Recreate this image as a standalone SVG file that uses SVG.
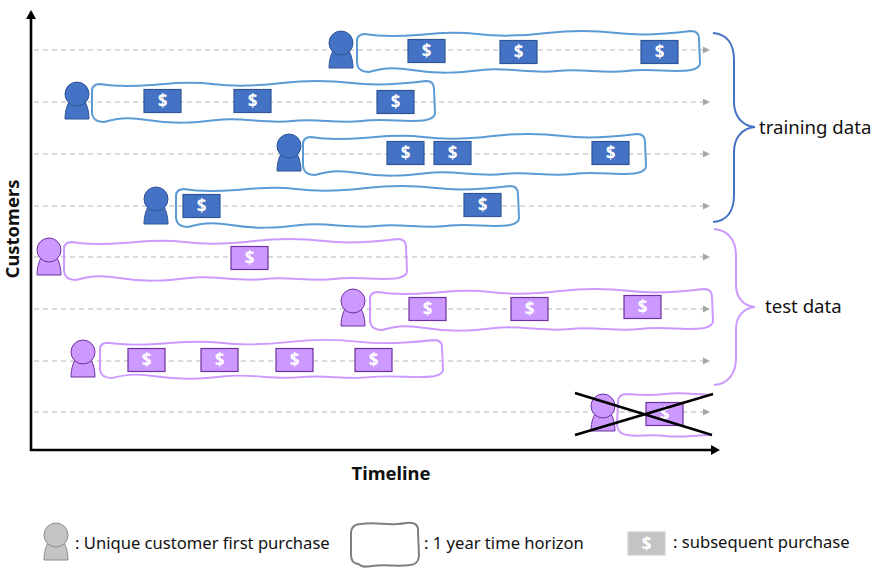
<svg xmlns="http://www.w3.org/2000/svg" width="881" height="578" viewBox="0 0 881 578">
<style>
text{font-family:"Noto Sans","Open Sans","Liberation Sans",sans-serif;fill:#111}
.dash{stroke:#b4b4b4;stroke-width:1;stroke-dasharray:5 4;fill:none}
.lbl{font-size:18.600px}
.leg{font-size:16.600px}
.ttl{font-size:18.400px;font-weight:700}
.ax{stroke:#000;stroke-width:2.600;fill:none}
.wave{fill:none;stroke-width:2;vector-effect:non-scaling-stroke}
.blue{fill:#4472c4;stroke:#2f5597}
.purple{fill:#cc99ff;stroke:#7030a0}
.grey{fill:#c4c4c4;stroke:#8c8c8c}
.wb{stroke:#5b9bd5}
.wp{stroke:#cc99ff}
.wg{stroke:#7f7f7f}
.d{font-size:17px;font-weight:700;fill:#fff;text-anchor:middle}
.brace{fill:none;stroke-width:2}
</style>
<defs>
<marker id="g" markerWidth="7" markerHeight="8" refX="1" refY="4" orient="auto" markerUnits="userSpaceOnUse"><path d="M0,0.500L7,4L0,7.500Z" fill="#a6a6a6"/></marker>
<marker id="k" markerWidth="10" markerHeight="10" refX="2" refY="5" orient="auto" markerUnits="userSpaceOnUse"><path d="M0,0L9,5L0,10Z" fill="#000"/></marker>
<path id="w" d="M8,3C25,6 45,5 60,4S95,0 120,3S165,5 190,2S235,-1 260,2S310,3 334,0Q342,0 342,8L343,32Q343,37 334,39C315,42 295,37 270,40S225,37 200,40S150,36 125,39S80,43 55,39S20,39 12,41Q1,41 0,32L0,10Q0,3 8,3Z"/>
<g id="p"><path d="M-12,25C-12,16 -9,8 -6,5L6,5C9,8 12,16 12,25Z"/><circle cx="0" cy="0" r="12"/></g>
<rect id="r" x="-18" y="-11.500" width="37" height="23" stroke-width="1.200"/>
</defs>

<g id="connectors">
<path class="dash" d="M34,50H704" marker-end="url(#g)"/>
<path class="dash" d="M34,102H704" marker-end="url(#g)"/>
<path class="dash" d="M34,154H704" marker-end="url(#g)"/>
<path class="dash" d="M34,206H704" marker-end="url(#g)"/>
<path class="dash" d="M34,257H704" marker-end="url(#g)"/>
<path class="dash" d="M34,309H704" marker-end="url(#g)"/>
<path class="dash" d="M34,361H704" marker-end="url(#g)"/>
<path class="dash" d="M34,412H704" marker-end="url(#g)"/>
<path class="ax" d="M31,451V17" marker-end="url(#k)"/>
<path class="ax" d="M30,450H713" marker-end="url(#k)"/>
</g>

<g id="customer-1"><use href="#w" class="wave wb" transform="translate(357,31)"/><use href="#p" class="blue" transform="translate(341,43)"/>
<use href="#r" class="blue" x="426" y="51"/><text class="d" x="426.500" y="57">$</text>
<use href="#r" class="blue" x="518" y="52"/><text class="d" x="518.500" y="58">$</text>
<use href="#r" class="blue" x="659" y="52"/><text class="d" x="659.500" y="58">$</text></g>
<g id="customer-2"><use href="#w" class="wave wb" transform="translate(92,81)"/><use href="#p" class="blue" transform="translate(77,94)"/>
<use href="#r" class="blue" x="162" y="101"/><text class="d" x="162.500" y="107">$</text>
<use href="#r" class="blue" x="252" y="101"/><text class="d" x="252.500" y="107">$</text>
<use href="#r" class="blue" x="395" y="102"/><text class="d" x="395.500" y="108">$</text></g>
<g id="customer-3"><use href="#w" class="wave wb" transform="translate(303,134)"/><use href="#p" class="blue" transform="translate(289,146)"/>
<use href="#r" class="blue" x="405" y="153"/><text class="d" x="405.500" y="159">$</text>
<use href="#r" class="blue" x="452" y="153"/><text class="d" x="452.500" y="159">$</text>
<use href="#r" class="blue" x="610" y="153"/><text class="d" x="610.500" y="159">$</text></g>
<g id="customer-4"><use href="#w" class="wave wb" transform="translate(176,186)"/><use href="#p" class="blue" transform="translate(156,199)"/>
<use href="#r" class="blue" x="201" y="206"/><text class="d" x="201.500" y="212">$</text>
<use href="#r" class="blue" x="482" y="205"/><text class="d" x="482.500" y="211">$</text></g>
<g id="customer-5"><use href="#w" class="wave wp" transform="translate(64,239)"/><use href="#p" class="purple" transform="translate(49,250)"/>
<use href="#r" class="purple" x="249" y="258"/><text class="d" x="249.500" y="264">$</text></g>
<g id="customer-6"><use href="#w" class="wave wp" transform="translate(370,289)"/><use href="#p" class="purple" transform="translate(353,301)"/>
<use href="#r" class="purple" x="427" y="309"/><text class="d" x="427.500" y="315">$</text>
<use href="#r" class="purple" x="529" y="309"/><text class="d" x="529.500" y="315">$</text>
<use href="#r" class="purple" x="642" y="307"/><text class="d" x="642.500" y="313">$</text></g>
<g id="customer-7"><use href="#w" class="wave wp" transform="translate(100,340) scale(1,0.93)"/><use href="#p" class="purple" transform="translate(83,352)"/>
<use href="#r" class="purple" x="146" y="360"/><text class="d" x="146.500" y="366">$</text>
<use href="#r" class="purple" x="219" y="360"/><text class="d" x="219.500" y="366">$</text>
<use href="#r" class="purple" x="294" y="360"/><text class="d" x="294.500" y="366">$</text>
<use href="#r" class="purple" x="373" y="360"/><text class="d" x="373.500" y="366">$</text></g>
<g id="customer-8"><path class="wave wp" d="M712,395C690,394 680,392 665,394S640,395 627,394Q618,394 618,402L617,425Q618,434 627,435C640,437 650,434 665,436S695,435 712,435"/><use href="#p" class="purple" transform="translate(603,406)"/>
<use href="#r" class="purple" x="664" y="414"/><text class="d" x="664.500" y="420">$</text>
<path d="M575,393L712,435M575,435L713,394" stroke="#000" stroke-width="2.600" fill="none"/></g>

<g id="training-brace"><path class="brace" stroke="#4472c4" d="M713,33C727,34 734,44 734,60V102C734,116 742,126 755,127C742,128 734,138 734,152V195C734,211 727,221 713,222"/><text class="lbl" x="759" y="134">training data</text></g>
<g id="test-brace"><path class="brace" stroke="#cc99ff" d="M714,229C728,230 736,240 736,256V285C736,297 743,306 755,307C743,308 736,317 736,329V358C736,374 728,384 714,385"/><text class="lbl" x="765" y="313">test data</text></g>

<text id="y-label" class="ttl" x="19" y="229" transform="rotate(-90 19 229)" text-anchor="middle">Customers</text>
<text id="x-label" class="ttl" x="391" y="480" text-anchor="middle">Timeline</text>

<g id="legend-customer"><use href="#p" class="grey" transform="translate(56,535)"/><text class="leg" x="75" y="549">: Unique customer first purchase</text></g>
<g id="legend-horizon"><path class="wave wg" d="M361,524C375,522 385,525 397,524S408,522 412,523Q419,524 418,532L419,556Q418,565 410,565C398,567 385,564 372,566S362,565 358,564Q351,563 351,555L351,532Q352,524 361,524Z"/><text class="leg" x="424" y="549">: 1 year time horizon</text></g>
<g id="legend-purchase"><use href="#r" class="grey" x="646" y="543.500" style="stroke:#d0d0d0"/><text class="d" x="646.500" y="549.500">$</text><text class="leg" x="673" y="548">: subsequent purchase</text></g>
</svg>
